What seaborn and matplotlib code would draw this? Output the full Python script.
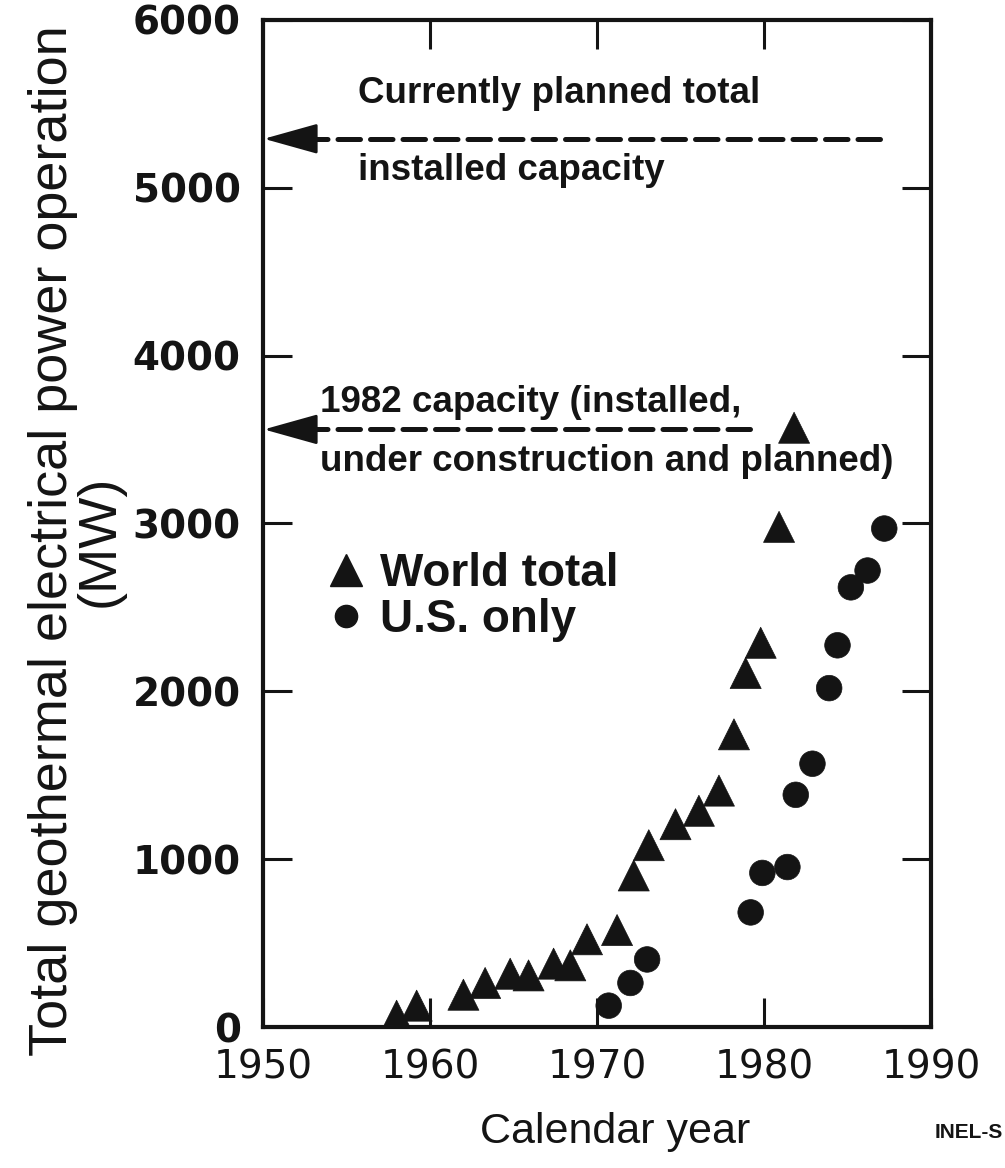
import pandas as pd
import matplotlib.pyplot as plt
import seaborn as sns
from matplotlib.lines import Line2D

# World total geothermal capacity (MW)
world_years = [1958.0, 1959.2, 1962.0, 1963.3, 1964.8, 1965.9, 1967.4, 1968.4, 1969.4, 1971.2,
               1972.2, 1973.1, 1974.7, 1976.1, 1977.3, 1978.2, 1978.9, 1979.8, 1980.9, 1981.8]
world_mw = [70, 130, 195, 265, 320, 310, 380, 370, 525, 580,
            905, 1085, 1210, 1290, 1410, 1745, 2110, 2290, 2980, 3570]

# U.S. only
us_years = [1970.7, 1972.0, 1973.0, 1979.2, 1979.9, 1981.4, 1981.9, 1982.9,
            1983.9, 1984.4, 1985.2, 1986.2, 1987.2]
us_mw = [130, 265, 405, 685, 920, 955, 1385, 1570, 2020, 2275, 2620, 2720, 2970]

series_names = ['World total', 'U.S. only']

# reference levels drawn as dashed arrows (value, right end of the dashes)
arrow_levels = [5290, 3560]
arrow_right_ends = [1987.2, 1979.7]
arrow_labels = [('Currently planned total', 'installed capacity'),
                ('1982 capacity (installed,', 'under construction and planned)')]

x_ticks = [1950, 1960, 1970, 1980, 1990]
y_ticks = [0, 1000, 2000, 3000, 4000, 5000, 6000]

ink = '#141414'

df = pd.concat([
    pd.DataFrame({'year': world_years, 'mw': world_mw, 'series': series_names[0]}),
    pd.DataFrame({'year': us_years, 'mw': us_mw, 'series': series_names[1]}),
], ignore_index=True)

sns.set_style('ticks')
plt.rcParams['font.family'] = ['Liberation Sans', 'DejaVu Sans']

fig = plt.figure(figsize=(10.05, 11.68), dpi=100)
ax = fig.add_axes([0.2617, 0.1203, 0.6647, 0.863])

sns.scatterplot(data=df, x='year', y='mw', style='series',
                markers={series_names[0]: '^', series_names[1]: 'o'},
                size='series', sizes={series_names[0]: 500, series_names[1]: 340},
                color=ink, edgecolor=ink, linewidth=0.5, legend=False, ax=ax, zorder=3)

ax.set_xlim(1950, 1990)
ax.set_ylim(0, 6000)
ax.set_xlabel('')
ax.set_ylabel('')

ax.set_xticks(x_ticks, [str(t) for t in x_ticks], fontsize=28, family='DejaVu Sans')
ax.set_yticks(y_ticks, [str(t) for t in y_ticks], fontsize=28, family='DejaVu Sans',
              fontweight='bold')
ax.tick_params(direction='in', length=21, width=2.2, top=True, right=True, color=ink,
               labelcolor=ink)
ax.tick_params(axis='x', pad=15)
ax.tick_params(axis='y', pad=16)
for sp in ax.spines.values():
    sp.set_linewidth(3)
    sp.set_color(ink)

# dashed arrows pointing at the y axis
for y, x_end in zip(arrow_levels, arrow_right_ends):
    ax.plot([1952.5, x_end], [y, y], ls=(0, (4.5, 2)), lw=3.6, color=ink,
            dash_capstyle='round')
    ax.annotate('', xy=(1950.05, y), xytext=(1953.2, y),
                arrowprops=dict(arrowstyle='-|>,head_length=3.4,head_width=0.95',
                                mutation_scale=10, lw=2, color=ink,
                                shrinkA=0, shrinkB=0))

text_kw = dict(fontsize=26.5, fontweight='bold', color=ink, va='center', ha='left')
ax.text(1955.7, 5560, arrow_labels[0][0], **text_kw)
ax.text(1955.7, 5100, arrow_labels[0][1], **text_kw)
ax.text(1953.4, 3720, arrow_labels[1][0], **text_kw)
ax.text(1953.4, 3370, arrow_labels[1][1], **text_kw)

handles = [Line2D([], [], marker='^', ls='', ms=23, color=ink),
           Line2D([], [], marker='o', ls='', ms=16, color=ink)]
ax.legend(handles, series_names, loc='upper left', bbox_to_anchor=(0.10, 0.472),
          frameon=False, prop={'size': 33, 'weight': 'bold'}, handlelength=0.7,
          handletextpad=0.4, labelspacing=0.05, borderpad=0, borderaxespad=0,
          labelcolor=ink)

fig.text(0.076, 0.537, 'Total geothermal electrical power operation\n(MW)',
         rotation=90, ha='center', va='center', multialignment='center',
         fontsize=39, linespacing=0.92, color=ink)
fig.text(0.612, 0.031, 'Calendar year', ha='center', va='center', fontsize=31, color=ink)
fig.text(0.998, 0.030, 'INEL-S', ha='right', va='center', fontsize=15,
         fontweight='bold', color=ink)

fig.savefig('out.png', dpi=100)
